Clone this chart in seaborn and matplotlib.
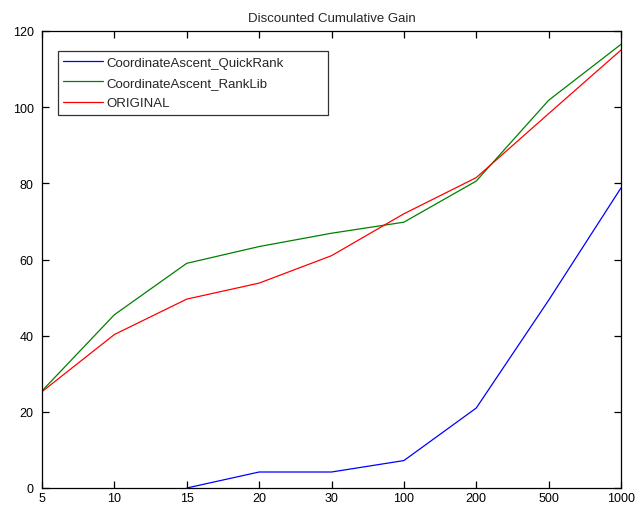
import numpy as np
import pandas as pd
import seaborn as sns
import matplotlib
matplotlib.use("Agg")
import matplotlib.pyplot as plt

# Cutoff values (evaluated at evenly spaced positions)
cutoffs = ["5", "10", "15", "20", "30", "100", "200", "500", "1000"]

# DCG values per ranker
quickrank = [np.nan, np.nan, 0.0, 4.2, 4.2, 7.2, 21.0, 49.3, 78.8]
ranklib = [25.5, 45.5, 59.0, 63.4, 66.9, 69.8, 80.6, 101.8, 116.5]
original = [25.3, 40.3, 49.6, 53.8, 61.0, 72.0, 81.5, 98.3, 115.0]

series_names = ["CoordinateAscent_QuickRank", "CoordinateAscent_RankLib", "ORIGINAL"]
series_values = [quickrank, ranklib, original]
series_colors = ["#0000ff", "#008000", "#ff0000"]

y_ticks = [0, 20, 40, 60, 80, 100, 120]

rows = []
for name, vals in zip(series_names, series_values):
    for i, v in enumerate(vals):
        rows.append({"pos": i, "dcg": v, "ranker": name})
df = pd.DataFrame(rows).dropna()

sns.set_style("white")
plt.rcParams["font.family"] = ["Liberation Sans", "DejaVu Sans"]

fig = plt.figure(figsize=(6.43, 5.06), dpi=100)
ax = fig.add_axes([42 / 643, 17 / 506, 579 / 643, 457 / 506])

sns.lineplot(
    data=df, x="pos", y="dcg", hue="ranker",
    hue_order=series_names, palette=series_colors,
    linewidth=0.9, ax=ax, legend=True,
)

ax.set_xlim(0, len(cutoffs) - 1)
ax.set_ylim(0, 120)
ax.set_xticks(range(len(cutoffs)))
ax.set_xticklabels(cutoffs)
ax.set_yticks(y_ticks)
ax.set_xlabel("")
ax.set_ylabel("")
ax.set_title("Discounted Cumulative Gain", fontsize=9.5, pad=7)

for s in ax.spines.values():
    s.set_visible(True)
    s.set_color("black")
    s.set_linewidth(0.9)

ax.tick_params(direction="in", length=5, width=0.9, color="black",
               top=True, right=True, bottom=True, left=True,
               labelsize=9, labelcolor="black")
ax.tick_params(axis="y", pad=6)
ax.tick_params(axis="x", pad=3)

leg = ax.legend(
    loc="upper left", bbox_to_anchor=(0.0276, 0.0, 270 / 579, 0.956),
    mode="expand", fontsize=9.5, frameon=True, fancybox=False,
    handlelength=3.0, handletextpad=0.25, labelspacing=0.62,
    borderpad=0.4, borderaxespad=0,
)
leg.get_frame().set_edgecolor("black")
leg.get_frame().set_linewidth(0.9)
for line in leg.get_lines():
    line.set_linewidth(0.9)

fig.savefig("out.png", dpi=100, facecolor="white")
